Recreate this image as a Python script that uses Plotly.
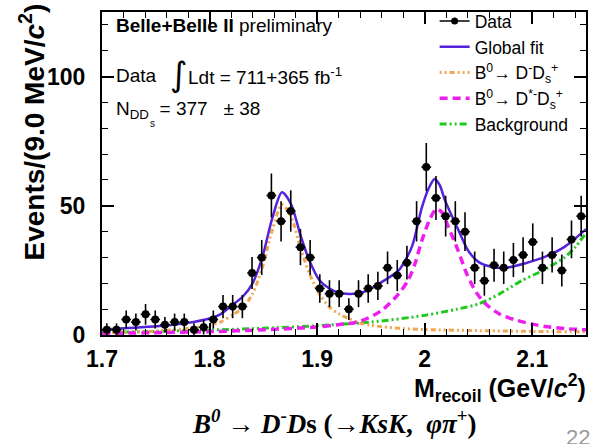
import plotly.graph_objects as go

# ---- recoil-mass spectrum (bins of 9 MeV from 1.70 GeV) ----
bin_centers = [1.7045 + 0.009 * i for i in range(50)]
counts = [2, 2, 6, 5, 8, 6, 4, 5, 5, 2,
          3, 6, 11, 11, 11, 24, 30, 54, 44, 48,
          34, 30, 18, 16, 16, 10, 16, 18, 19, 26,
          23, 28, 44, 65, 53, 46, 44, 40, 26, 21,
          27, 26, 29, 31, 36, 26, 31, 25, 37, 46]
count_errors = [2.5, 2.5, 3.5, 3.3, 4.0, 3.5, 3.0, 3.3, 3.3, 2.5,
                2.8, 3.5, 4.5, 4.5, 4.5, 6.2, 6.8, 8.5, 7.8, 8.0,
                7.0, 6.8, 5.5, 5.2, 5.2, 4.2, 5.2, 5.5, 5.5, 6.3,
                6.0, 6.5, 7.8, 9.3, 8.5, 7.9, 7.8, 7.5, 6.3, 5.8,
                6.4, 6.3, 6.6, 6.8, 7.2, 6.3, 6.8, 6.2, 7.3, 7.9]
half_bin = [0.0045] * 50

# ---- fit curves ----
fit_x = [1.700, 1.720, 1.740, 1.760, 1.780, 1.800, 1.810, 1.820, 1.831, 1.840,
         1.849, 1.8586, 1.8673, 1.8756, 1.885, 1.8926, 1.902, 1.911, 1.920, 1.930,
         1.939, 1.948, 1.958, 1.967, 1.976, 1.988, 1.9975, 2.004, 2.0093, 2.014,
         2.019, 2.0315, 2.0407, 2.050, 2.062, 2.0747, 2.093, 2.1117, 2.130, 2.150]
fit_y = [2.0, 2.6, 3.1, 3.7, 4.7, 6.4, 8.0, 11.2, 14.9, 20.0,
         30.0, 45.6, 55.2, 50.8, 38.0, 29.0, 21.3, 18.1, 16.4, 15.9,
         16.2, 17.5, 20.0, 22.3, 25.1, 34.0, 49.5, 57.0, 60.4, 58.0,
         52.0, 40.5, 32.5, 28.3, 26.4, 26.0, 27.7, 30.2, 34.1, 41.0]

dds_x = [1.700, 1.720, 1.740, 1.760, 1.780, 1.800, 1.810, 1.8216, 1.831, 1.840,
         1.849, 1.8586, 1.8673, 1.8756, 1.885, 1.8926, 1.902, 1.911, 1.920, 1.930,
         1.940, 1.950, 1.960, 1.980, 2.000, 2.050, 2.100, 2.150]
dds_y = [0.8, 1.0, 1.3, 1.8, 2.5, 3.8, 5.0, 7.8, 10.5, 16.0,
         26.0, 41.0, 50.5, 46.0, 33.0, 24.0, 16.0, 11.0, 8.2, 6.3,
         4.6, 3.8, 3.2, 2.5, 2.1, 1.7, 1.4, 1.2]

dstar_x = [1.700, 1.750, 1.800, 1.850, 1.900, 1.920, 1.940, 1.960, 1.976, 1.985,
           1.991, 1.9975, 2.005, 2.011, 2.016, 2.022, 2.031, 2.039, 2.048, 2.056,
           2.070, 2.084, 2.100, 2.112, 2.130, 2.150]
dstar_y = [0.6, 0.9, 1.3, 2.0, 3.1, 4.0, 5.3, 9.5, 16.0, 21.5,
           27.6, 36.7, 45.0, 48.8, 47.5, 41.8, 32.8, 23.8, 16.5, 12.3,
           8.0, 5.9, 4.2, 3.3, 2.5, 2.0]

bkg_x = [1.700, 1.750, 1.800, 1.850, 1.900, 1.950, 2.000, 2.030, 2.050, 2.070,
         2.090, 2.110, 2.130, 2.140, 2.150]
bkg_y = [1.0, 1.4, 1.9, 2.6, 3.6, 5.0, 7.6, 10.0, 12.0, 16.0,
         21.0, 25.0, 30.0, 34.0, 39.5]

x_tick_vals = [1.7, 1.8, 1.9, 2.0, 2.1]
x_tick_text = ["1.7", "1.8", "1.9", "2", "2.1"]
y_tick_vals = [0, 50, 100]
y_tick_text = ["0", "50", "100"]

PURPLE = "#5422d8"
ORANGE = "#f2a552"
MAGENTA = "#ee1fee"
GREEN = "#20c820"

fig = go.Figure()

fig.add_trace(go.Scatter(x=bkg_x, y=bkg_y, mode="lines", name="Background",
                         line=dict(color=GREEN, width=3, dash="7px,3px,2px,3px,2px,3px",
                                   shape="spline", smoothing=0.8),
                         legendrank=5, showlegend=True))
fig.add_trace(go.Scatter(x=dds_x, y=dds_y, mode="lines",
                         name="B<sup>0</sup>→ D<sup>-</sup>D<sub>s</sub><sup>+</sup>",
                         line=dict(color=ORANGE, width=3, dash="2px,3px,2px,3px,5px,3px",
                                   shape="spline", smoothing=0.8),
                         legendrank=3))
fig.add_trace(go.Scatter(x=dstar_x, y=dstar_y, mode="lines",
                         name="B<sup>0</sup>→ D<sup>*-</sup>D<sub>s</sub><sup>+</sup>",
                         line=dict(color=MAGENTA, width=3.5, dash="8px,5px",
                                   shape="spline", smoothing=0.8),
                         legendrank=4))
fig.add_trace(go.Scatter(x=fit_x, y=fit_y, mode="lines", name="Global fit",
                         line=dict(color=PURPLE, width=2.5, shape="spline", smoothing=0.8),
                         legendrank=2))
fig.add_trace(go.Scatter(x=bin_centers, y=counts, mode="markers", showlegend=False,
                         marker=dict(color="black", size=8),
                         error_y=dict(type="data", array=count_errors, color="black",
                                      thickness=1.6, width=0),
                         error_x=dict(type="data", array=half_bin, color="black",
                                      thickness=1.6, width=0)))
# legend entry for the data points
fig.add_trace(go.Scatter(x=[None], y=[None], mode="lines+markers", name="Data",
                         marker=dict(color="black", size=7),
                         line=dict(color="black", width=1.5), legendrank=1))

L, T, W, H = 102, 10, 486, 325


def px(x):
    return (x - L) / W


def py(y):
    return (T + H - y) / H


axis_common = dict(showline=True, linewidth=2, linecolor="black", mirror="allticks",
                   ticks="inside", ticklen=12, tickwidth=1.5, tickcolor="black",
                   showgrid=False, zeroline=False,
                   tickfont=dict(family="Liberation Sans", size=23, color="black",
                                 weight="bold"))

fig.update_xaxes(range=[1.7, 2.15], tickvals=x_tick_vals, ticktext=x_tick_text,
                 minor=dict(dtick=0.02, tick0=1.7, ticks="inside", ticklen=6,
                            tickwidth=1.2, tickcolor="black"),
                 ticklabelstandoff=2, **axis_common)
fig.update_yaxes(range=[0, 125], tickvals=y_tick_vals, ticktext=y_tick_text,
                 minor=dict(dtick=10, tick0=0, ticks="inside", ticklen=6,
                            tickwidth=1.2, tickcolor="black"),
                 ticklabelstandoff=10, **axis_common)

txt = dict(family="Liberation Sans", size=19, color="black")
annotations = [
    dict(x=px(114), y=py(24), text="<b>Belle+Belle II</b> preliminary",
         xanchor="left", yanchor="middle", font=txt),
    dict(x=px(114), y=py(74), text="Data", xanchor="left", yanchor="middle", font=txt),
    dict(x=px(168), y=py(72), text="∫", xanchor="left", yanchor="middle",
         font=dict(family="DejaVu Sans", size=34, color="black")),
    dict(x=px(186), y=py(74), text="Ldt = 711+365 fb<sup>-1</sup>",
         xanchor="left", yanchor="middle", font=txt),
    dict(x=px(114), y=py(109), text="N<sub>DD</sub>  = 377   ± 38",
         xanchor="left", yanchor="middle", font=txt),
    dict(x=px(148), y=py(122), text="s", xanchor="left", yanchor="middle",
         font=dict(family="Liberation Sans", size=10, color="black")),
    dict(x=px(32), y=py(131), text="<b>Events/(9.0 MeV/<i>c</i><sup>2</sup>)</b>",
         textangle=-90, xanchor="center", yanchor="middle",
         font=dict(family="Liberation Sans", size=28, color="black")),
    dict(x=px(590), y=py(388), text="<b>M<sub>recoil</sub> (GeV/<i>c</i><sup>2</sup>)</b>",
         xanchor="right", yanchor="middle",
         font=dict(family="Liberation Sans", size=25, color="black")),
    dict(x=px(335), y=py(423),
         text="<b><i>B<sup>0</sup></i> → <i>D</i><sup>-</sup><i>D</i>s (→<i>KsK</i>,  <i>φπ</i><sup>+</sup>)</b>",
         xanchor="center", yanchor="middle",
         font=dict(family="Liberation Serif", size=27, color="black")),
    dict(x=px(566), y=py(424), text="22", xanchor="left", yanchor="top",
         font=dict(family="Liberation Sans", size=22, color="#9a9a9a")),
]
for a in annotations:
    a.update(xref="paper", yref="paper", showarrow=False)

fig.update_layout(
    width=591, height=444,
    margin=dict(l=L, r=591 - L - W, t=T, b=444 - T - H, pad=0),
    plot_bgcolor="white", paper_bgcolor="white",
    annotations=annotations,
    legend=dict(x=px(436), y=py(1), xanchor="left", yanchor="top",
                bgcolor="rgba(0,0,0,0)", borderwidth=0,
                font=dict(family="Liberation Sans", size=17.5, color="black"),
                itemwidth=30, tracegroupgap=0, traceorder="normal"),
)

fig.write_html("out.html")
